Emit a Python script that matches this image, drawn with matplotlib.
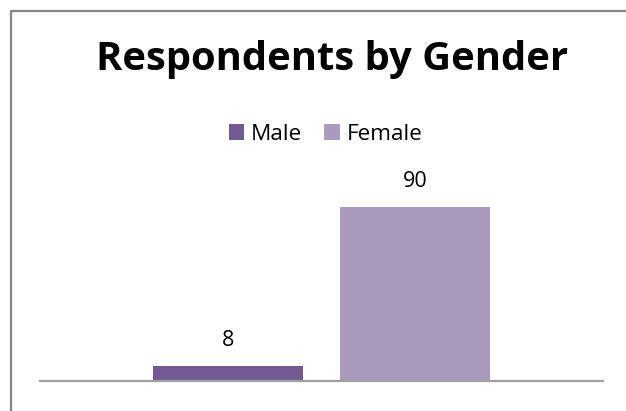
import matplotlib
matplotlib.use("Agg")
import matplotlib.pyplot as plt
from matplotlib.lines import Line2D
from matplotlib.patches import Patch

# Data
categories = ["Male", "Female"]
values = [8, 90]
colors = ["#745A92", "#A99BBE"]
title = "Respondents by Gender"

W, H = 626, 411
DPI = 100
plt.rcParams['font.family'] = ['Open Sans', 'DejaVu Sans']

fig = plt.figure(figsize=(W / DPI, H / DPI), dpi=DPI)
fig.patch.set_facecolor("white")

def fx(px):
    return px / W

def fy(py):
    return (H - py) / H

# outer chart frame (cropped at right/bottom)
fig.add_artist(Line2D([fx(10.5), fx(10.5), fx(W + 5)], [fy(H + 5), fy(11.5), fy(11.5)],
                      transform=fig.transFigure, color="#878787", lw=1.6))

# plot area
ax_left, ax_right = 40, 603
ax_bottom_px = 381
ymax = 100
px_per_unit = (381 - 207) / 90.0
ax_h = ymax * px_per_unit
ax = fig.add_axes([fx(ax_left), fy(ax_bottom_px), (ax_right - ax_left) / W, ax_h / H])
ax.set_xlim(-0.5, 0.5)
ax.set_ylim(0, ymax)
for s in ["top", "right", "left"]:
    ax.spines[s].set_visible(False)
ax.spines["bottom"].set_color("#A0A0A0")
ax.spines["bottom"].set_linewidth(1.6)
ax.set_xticks([])
ax.set_yticks([])
ax.patch.set_alpha(0)

offsets = [-0.1665, 0.1665]
bw = 0.2665
for cat, v, c, o in zip(categories, values, colors, offsets):
    ax.bar(o, v, width=bw, color=c, label=cat, zorder=1)
    ax.annotate(str(v), xy=(o, v), xytext=(0, 14.4), textcoords="offset points",
                ha="center", va="baseline", fontsize=15.5, color="#000000")

fig.text(fx(332), fy(70), title, ha="center", va="baseline",
         fontsize=28.8, fontweight="bold", color="#000000")

handles = [Patch(facecolor=c, edgecolor="none") for c in colors]
fig.legend(handles, categories, loc="center", bbox_to_anchor=(fx(325.5), fy(134.5)),
           ncol=2, frameon=False, fontsize=16.2, handlelength=0.68, handleheight=0.68,
           handletextpad=0.3, columnspacing=1.0, borderpad=0, borderaxespad=0)

fig.savefig("out.png", dpi=DPI, facecolor="white")
